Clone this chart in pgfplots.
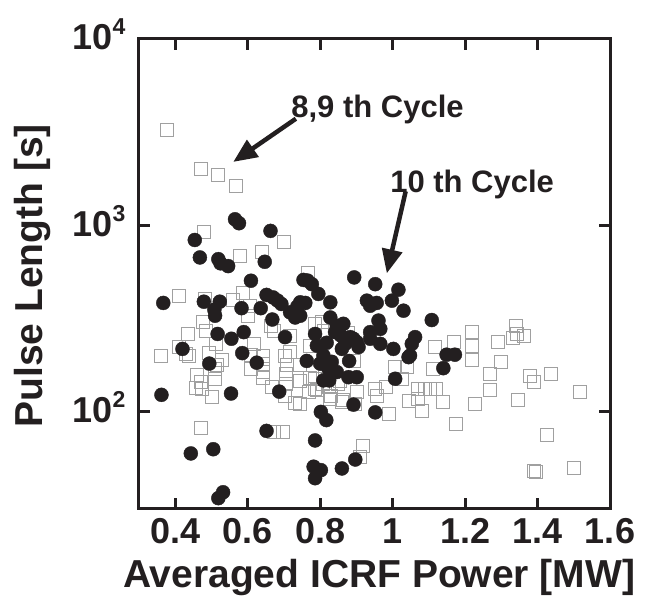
\documentclass[border=0pt]{standalone}
\usepackage{fontspec}
\setmainfont{Liberation Sans}
\usepackage{pgfplots}
\usepackage{pgfplotstable}
\pgfplotsset{compat=1.18}
\usetikzlibrary{arrows.meta}
\definecolor{dotc}{HTML}{231F20}
\definecolor{sqc}{HTML}{A0A0A0}

\pgfplotstableread{
x y
0.367 383
0.362 123
0.420 217
0.454 834
0.468 672
0.443 59.6
0.479 389
0.494 181
0.505 62.8
0.508 352
0.510 327
0.517 261
0.519 658
0.525 625
0.546 604
0.523 389
0.532 36.9
0.519 34.3
0.554 125
0.555 246
0.565 1077
0.576 1026
0.583 359
0.585 206
0.589 267
0.609 504
0.625 183
0.636 359
0.647 637
0.652 423
0.652 78.8
0.663 933
0.668 312
0.670 410
0.682 395
0.687 128
0.693 378
0.703 251
0.717 341
0.731 320
0.737 366
0.745 327
0.745 386
0.759 383
0.754 509
0.765 505
0.777 483
0.795 428
0.763 187
0.786 261
0.818 234
0.828 386
0.828 320
0.846 289
0.864 296
0.841 267
0.857 256
0.791 226
0.809 200
0.800 181
0.832 185
0.823 170
0.809 147
0.825 147
0.846 163
0.880 187
0.901 236
0.883 251
0.892 246
0.906 222
0.869 231
0.860 217
0.878 153
0.901 153
0.894 525
0.952 483
0.929 394
0.938 370
0.956 383
1.016 451
0.998 394
1.030 348
0.961 308
0.966 278
0.938 267
0.938 246
0.966 231
1.062 251
1.053 231
1.002 217
1.048 200
1.044 196
1.108 310
1.149 202
1.172 202
1.140 171
1.007 150
0.892 109
0.952 99
0.802 99.6
0.817 90
0.786 70
0.782 50.6
0.802 48.5
0.786 43.9
0.860 49.5
0.897 55.3
}\tenth

\pgfplotstableread{
x y
0.376 3236
0.471 2018
0.519 1874
0.567 1622
0.480 925
0.700 812
0.640 720
0.578 688
0.767 558
0.410 420
0.482 404
0.560 400
0.587 435
0.606 370
0.600 326
0.663 289
0.671 272
0.717 256
0.476 302
0.484 272
0.434 262
0.410 222
0.430 205
0.360 199
0.437 200
0.492 207
0.511 231
0.528 190
0.516 177
0.510 170
0.609 202
0.616 231
0.641 200
0.641 181
0.641 163
0.641 152
0.609 170
0.459 158
0.472 144
0.456 134
0.473 133
0.509 149
0.502 120
0.471 81.6
0.703 200
0.708 177
0.706 160
0.705 141
0.703 122
0.716 210
0.745 147
0.730 111
0.771 151
0.786 150
0.786 133
0.814 153
0.823 136
0.807 141
0.830 122
0.850 141
0.855 147
0.862 116
0.826 117
0.860 113
0.897 110
0.901 127
0.952 133
0.958 121
0.982 135
0.990 97
1.007 174
1.025 150
1.039 173
1.044 114
1.071 117
1.071 133
1.089 133
1.103 133
1.120 133
1.081 101
1.140 113
1.111 170
1.118 222
1.170 236
1.220 268
1.220 226
1.220 190
1.290 236
1.339 289
1.342 261
1.331 248
1.361 256
1.298 184
1.269 160
1.269 130
1.379 156
1.390 145
1.436 160
1.516 128
1.346 115
1.227 110
1.175 85.5
1.427 74.7
1.389 48
1.396 47.6
1.501 50
0.919 65.4
0.910 57.3
0.671 78
0.698 78
0.770 128
0.790 130
0.745 110
0.785 296
0.805 302
0.809 272
0.773 226
0.893 186
0.876 265
0.744 177
0.666 136
}\eightnine

\begin{document}
\begin{tikzpicture}
\begin{axis}[
  at={(0,0)}, anchor=south west,
  scale only axis, width=471pt, height=470pt,
  xmin=0.3, xmax=1.6, ymode=log, ymin=30, ymax=10000,
  axis line style={line width=3pt, color=dotc},
  every tick/.style={line width=3pt, color=dotc},
  major tick length=11pt,
  tick align=inside,
  yminorticks=false,
  xtick={0.4,0.6,0.8,1.0,1.2,1.4,1.6},
  xticklabels={0.4,0.6,0.8,1,1.2,1.4,1.6},
  ytick={100,1000,10000},
  yticklabels={10\raisebox{15pt}{\fontsize{23}{23}\selectfont 2},
               10\raisebox{15pt}{\fontsize{23}{23}\selectfont 3},
               10\raisebox{15pt}{\fontsize{23}{23}\selectfont 4}},
  ticklabel style={font=\fontsize{36}{36}\selectfont\bfseries, text=dotc},
  xticklabel style={yshift=-6pt},
  yticklabel style={anchor=base east, yshift=-11pt, xshift=-10pt},
  xlabel={Averaged ICRF Power [MW]},
  ylabel={Pulse Length [s]},
  label style={font=\fontsize{39}{39}\selectfont\bfseries, text=dotc},
  xlabel style={at={(axis description cs:0.510,-0.168)}, anchor=base},
  ylabel style={at={(axis description cs:-0.226,0.496)}, anchor=center},
  clip mode=individual,
]
\addplot[only marks, mark=square, mark size=6.5pt, mark options={draw=sqc, line width=0.8pt, fill=none}] table {\eightnine};
\addplot[only marks, mark=*, mark size=7pt, mark options={draw=dotc, fill=dotc}] table {\tenth};
\node[anchor=base west, inner sep=0pt, font=\fontsize{31}{31}\selectfont\bfseries, text=dotc] at (axis cs:0.720,3800) {8,9 th Cycle};
\node[anchor=base west, inner sep=0pt, font=\fontsize{31}{31}\selectfont\bfseries, text=dotc] at (axis cs:0.993,1500) {10 th Cycle};
\draw[line width=4.5pt, dotc, -{Triangle[length=24pt,width=20pt]}] (axis cs:0.733,3733) -- (axis cs:0.560,2188);
\draw[line width=4.5pt, dotc, -{Triangle[length=24pt,width=20pt]}] (axis cs:1.036,1521) -- (axis cs:0.984,552);
\end{axis}
\pgfresetboundingbox
\path[use as bounding box] (-139pt,-90pt) rectangle (510pt,509pt);
\end{tikzpicture}
\end{document}
